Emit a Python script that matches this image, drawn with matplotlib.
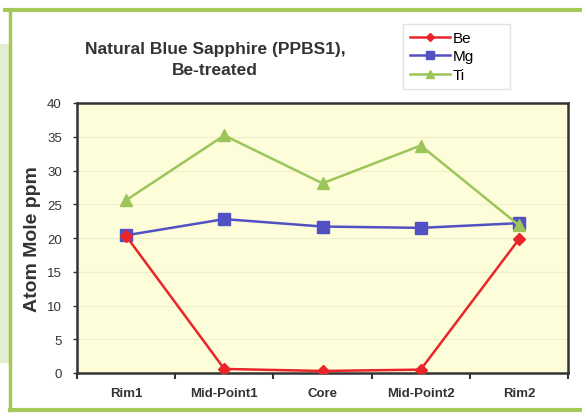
import matplotlib
matplotlib.use('Agg')
import matplotlib.pyplot as plt
from matplotlib.patches import Rectangle
from matplotlib.lines import Line2D

# Data
positions = ['Rim1', 'Mid-Point1', 'Core', 'Mid-Point2', 'Rim2']
be = [20.3, 0.6, 0.3, 0.5, 19.8]
mg = [20.4, 22.8, 21.7, 21.5, 22.2]
ti = [25.6, 35.2, 28.1, 33.7, 21.9]
yticks = [0, 5, 10, 15, 20, 25, 30, 35, 40]

plt.rcParams['font.family'] = ['Liberation Sans', 'DejaVu Sans']

fig = plt.figure(figsize=(5.82, 4.14), dpi=100)
fig.patch.set_facecolor('white')

# page frame (green border and light green strip on the left)
W, H = 582, 414
def fx(px):
    return px / W
def fy(py):
    return 1 - py / H
fig.patches.append(Rectangle((0, fy(363)), fx(10), fy(45) - fy(363),
                             transform=fig.transFigure, color='#e4efcf', zorder=0))
green = '#a4c957'
fig.lines.append(Line2D([fx(5), 1], [fy(11), fy(11)], transform=fig.transFigure,
                        color=green, lw=3))
fig.lines.append(Line2D([fx(10), fx(10)], [fy(11), fy(411)], transform=fig.transFigure,
                        color=green, lw=2.5))
fig.lines.append(Line2D([fx(10), 1], [fy(411), fy(411)], transform=fig.transFigure,
                        color=green, lw=3))

ax = fig.add_axes([fx(77), fy(374), fx(568) - fx(77), fy(104) - fy(374)])
ax.set_facecolor('#fdfdd9')

x = range(len(positions))
ax.plot(x, be, color='#e8262a', lw=1.8, marker='D', ms=6, label='Be', zorder=4)
ax.plot(x, mg, color='#5151c4', lw=1.8, marker='s', ms=9, label='Mg', zorder=3)
ax.plot(x, ti, color='#9cc55a', lw=1.8, marker='^', ms=8, label='Ti', zorder=3)

ax.set_xlim(-0.5, len(positions) - 0.5)
ax.set_ylim(0, 40)
ax.set_yticks(yticks)
ax.set_yticklabels([str(v) for v in yticks], fontsize=9.5, color='#333333')
ax.set_xticks(list(x))
ax.set_xticklabels(positions, fontsize=9.5, fontweight='bold', color='#333333')
ax.tick_params(axis='x', length=0, pad=10)
ax.set_xticks([i - 0.5 for i in range(len(positions) + 1)], minor=True)
ax.tick_params(axis='x', which='minor', length=4, width=1.5, direction='out', color='#333333')
ax.tick_params(axis='y', length=3, width=1, direction='out', color='#333333', pad=8)
ax.grid(axis='y', color='#efefcb', lw=0.8)
ax.set_axisbelow(True)
for s in ax.spines.values():
    s.set_color('#333333')
    s.set_linewidth(1.8)

ax.set_ylabel('Atom Mole ppm', fontsize=14, fontweight='bold', color='#333333', labelpad=4)

fig.text(fx(215), fy(60), 'Natural Blue Sapphire (PPBS1),\nBe-treated', ha='center', va='center',
         fontsize=12.5, fontweight='bold', color='#333333', linespacing=1.45)

leg = fig.legend(loc='upper left',
                 bbox_to_anchor=(fx(403), fy(93), fx(510) - fx(403), fy(25) - fy(93)),
                 mode='expand', fontsize=11,
                 frameon=True, fancybox=False, handlelength=2.6, handletextpad=0.2,
                 labelspacing=0.3, borderpad=0.45, borderaxespad=0, markerscale=0.65)
leg.get_frame().set_edgecolor('#dddddd')
leg.get_frame().set_linewidth(1)

fig.savefig('out.png', dpi=100)
